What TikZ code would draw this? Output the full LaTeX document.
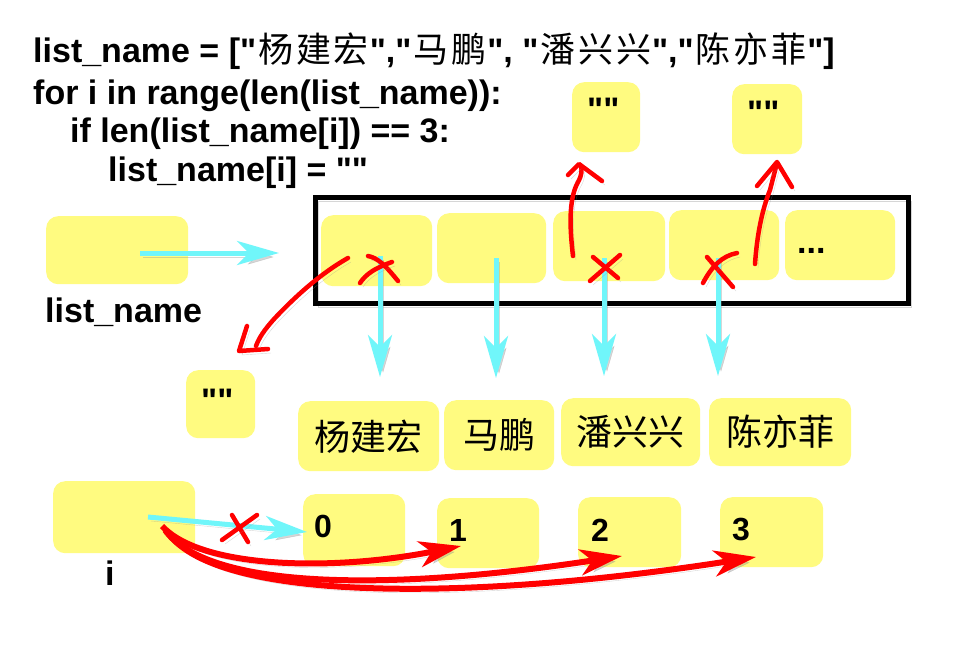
\documentclass[tikz,border=0pt]{standalone}
\usepackage{fontspec}
\setmainfont{Liberation Sans}[Ligatures=TeXOff]
\newfontfamily\cjk{Noto Sans CJK SC}
\newfontfamily\cjkcode{Noto Sans CJK SC}[LetterSpace=8]
\usetikzlibrary{arrows.meta,calc}
\definecolor{yfill}{RGB}{255,251,128}
\definecolor{cyanA}{RGB}{112,246,250}
\definecolor{redA}{RGB}{255,0,0}
\newcommand\cjkc[1]{\hspace{2pt}{\fontsize{35}{36}\selectfont\mdseries\cjkcode #1}\hspace{1pt}}
\tikzset{
  ybox/.style={fill=yfill, rounded corners=12pt, inner sep=0pt, anchor=north west},
  code/.style={font=\fontsize{34}{40}\selectfont\bfseries, inner sep=0pt, anchor=base west},
  lbl/.style={font=\fontsize{32}{36}\selectfont\bfseries, inner sep=0pt, anchor=base west},
  cname/.style={font=\fontsize{36}{40}\selectfont\cjk, inner sep=0pt},
  shd/.style={preaction={draw=black!45, opacity=0.35, transform canvas={shift={(3pt,-4pt)}}}},
  cyanarrow/.style={draw=cyanA, line width=5pt, shd, -{Stealth[length=42pt,width=24pt,inset=12pt]}},
  redarrow/.style={draw=redA, line width=6pt, shd, -{Stealth[length=42pt,width=26pt,inset=12pt]}},
  redhand/.style={draw=redA, line width=4.5pt, line cap=round, line join=round, shd},
}
\begin{document}
\begin{tikzpicture}[x=1pt,y=-1pt]
\useasboundingbox[fill=white] (0,0) rectangle (980,651);

% code
\node[code] (l1) at (33,62) {list\_name = ["\cjkc{杨建宏}","\cjkc{马鹏}", "\cjkc{潘兴兴}","\cjkc{陈亦菲}"]};
\node[code] (l2) at (33,104) {for i in range(len(list\_name)):};
\node[code] (l3) at (70,142) {if len(list\_name[i]) == 3:};
\node[code] (l4) at (108,181) {list\_name[i] = ""};

% list_name variable
\node[ybox, minimum width=142pt, minimum height=68pt] (lnbox) at (46,216) {};
\node[code] (lnlbl) at (45,322) {list\_name};

% array frame
\draw[line width=5pt, shd] (315,197) rectangle (908,303);
\node[ybox, minimum width=111pt, minimum height=71pt] (c1) at (321,215) {};
\node[ybox, minimum width=109pt, minimum height=70pt] (c2) at (437,213) {};
\node[ybox, minimum width=112pt, minimum height=70pt] (c3) at (553,211) {};
\node[ybox, minimum width=110pt, minimum height=70pt] (c4) at (669,210) {};
\node[ybox, minimum width=110pt, minimum height=70pt] (c5) at (785,210) {};
\node[code] (dots) at (797,253) {...};

% empty string boxes
\node[ybox, minimum width=68pt, minimum height=70pt] (t3) at (572,82) {};
\node[code] at (587,121) {""};
\node[ybox, minimum width=70pt, minimum height=70pt] (t4) at (732,84) {};
\node[code] at (747,124) {""};
\node[ybox, minimum width=69pt, minimum height=68pt] (e1) at (186,370) {};
\node[code] at (201,412) {""};

% name boxes
\node[ybox, minimum width=141pt, minimum height=70pt] (n1) at (298,401) {};
\node[cname] at (n1.center) {杨建宏};
\node[ybox, minimum width=110pt, minimum height=70pt] (n2) at (444,400) {};
\node[cname] at (n2.center) {马鹏};
\node[ybox, minimum width=139pt, minimum height=68pt] (n3) at (561,398) {};
\node[cname] at (n3.center) {潘兴兴};
\node[ybox, minimum width=142pt, minimum height=68pt] (n4) at (709,398) {};
\node[cname] at (n4.center) {陈亦菲};

% index boxes
\node[ybox, minimum width=142pt, minimum height=72pt] (ibox) at (53,481) {};
\node[code] (ilbl) at (105,585) {i};
\node[ybox, minimum width=102pt, minimum height=72pt] (b0) at (303,494) {};
\node[lbl] at (314,537) {0};
\node[ybox, minimum width=102pt, minimum height=70pt] (b1) at (437,498) {};
\node[lbl] at (449,541) {1};
\node[ybox, minimum width=103pt, minimum height=70pt] (b2) at (578,497) {};
\node[lbl] at (591,541) {2};
\node[ybox, minimum width=103pt, minimum height=70pt] (b3) at (720,497) {};
\node[lbl] at (732,540) {3};

% named connector ends
\coordinate (lnS) at (140,253);
\coordinate (lnE) at (279,253);
\coordinate (c1S) at (380,256);
\coordinate (n1E) at (380,377);
\coordinate (c2S) at (496,258);
\coordinate (n2E) at (496,378);
\coordinate (c3S) at (604,258);
\coordinate (n3E) at (604,376);
\coordinate (c4S) at (718,258);
\coordinate (n4E) at (718,376);
\coordinate (iS) at (148,517);
\coordinate (b0E) at (307,532);

% cyan arrows
\draw[cyanarrow] (lnS) -- (lnE);
\draw[cyanarrow] (c1S) -- (n1E);
\draw[cyanarrow] (c2S) -- (n2E);
\draw[cyanarrow] (c3S) -- (n3E);
\draw[cyanarrow] (c4S) -- (n4E);
\draw[cyanarrow] (iS) -- (b0E);

% red index arrows
\coordinate (r1S) at (162,526);
\coordinate (r2S) at (165,530);
\coordinate (r3S) at (168,533);
\coordinate (b1E) at (461,546);
\coordinate (b2E) at (622,556);
\coordinate (b3E) at (756,557);
\draw[redarrow] (r1S) .. controls (200,568) and (330,572) .. (b1E);
\draw[redarrow] (r2S) .. controls (210,592) and (400,590) .. (b2E);
\draw[redarrow] (r3S) .. controls (220,604) and (480,600) .. (b3E);

% red hand-drawn arrows
\coordinate (h1S) at (348,258);
\coordinate (h1E) at (256,346);
\draw[redhand] (h1S) .. controls (318,275) and (292,300) .. (275,318) .. controls (264,330) and (259,338) .. (h1E);
\draw[redhand] (247,326) -- (239,351) -- (268,349);
\coordinate (h3S) at (573,256);
\coordinate (h3E) at (581,166);
\draw[redhand] (h3S) .. controls (570,230) and (568,200) .. (578,182) .. controls (582,175) and (582,170) .. (h3E);
\draw[redhand] (568,175) -- (579,164) -- (602,181);
\coordinate (h4S) at (755,264);
\coordinate (h4E) at (777,163);
\draw[redhand] (h4S) .. controls (757,235) and (762,210) .. (770,190) -- (h4E);
\draw[redhand] (757,186) -- (777,162) -- (792,187);

% red crosses
\draw[redhand] (368,256) .. controls (378,258) and (385,265) .. (398,281);
\draw[redhand] (360,283) .. controls (366,274) and (375,268) .. (392,262);
\draw[redhand] (593,257) -- (618,278);
\draw[redhand] (590,281) -- (620,255);
\draw[redhand] (707,257) -- (733,287);
\draw[redhand] (703,283) .. controls (712,266) and (722,256) .. (737,253);
\draw[redhand] (232,515) -- (248,542);
\draw[redhand] (222,540) -- (257,515);
\end{tikzpicture}
\end{document}
